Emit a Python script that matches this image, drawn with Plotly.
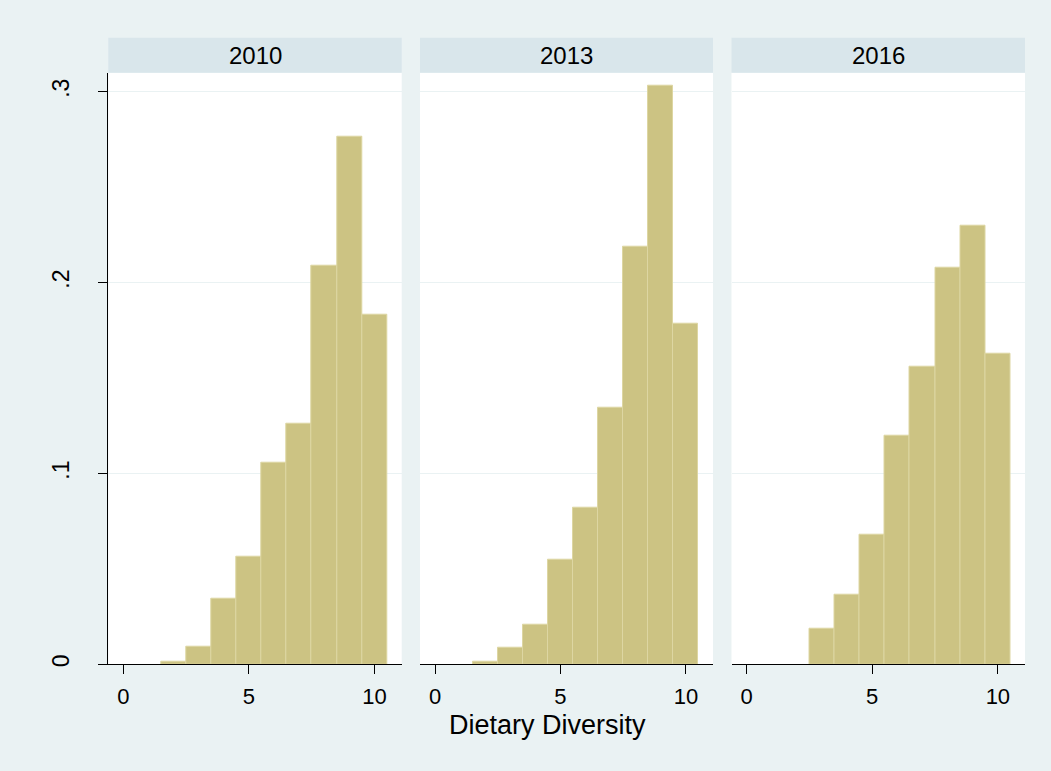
import plotly.graph_objects as go

# ---- data ----
years = ["2010", "2013", "2016"]
bins = [2, 3, 4, 5, 6, 7, 8, 9, 10]
dens_2010 = [0.0015, 0.0092, 0.0343, 0.0562, 0.1057, 0.1260, 0.2088, 0.2766, 0.1834]
dens_2013 = [0.0012, 0.0089, 0.0207, 0.0549, 0.0819, 0.1344, 0.2187, 0.3031, 0.1784]
dens_2016 = [None, 0.0189, 0.0367, 0.0680, 0.1196, 0.1560, 0.2080, 0.2297, 0.1628]
x_ticks = [0, 5, 10]
y_ticks = [0, 0.1, 0.2, 0.3]
y_ticktext = ["0", ".1", ".2", ".3"]
x_title = "Dietary Diversity"

series = [dens_2010, dens_2013, dens_2016]

W, H = 1051, 771
BG = "#EAF2F3"
STRIP = "#D9E6EB"
BAR = "#CCC383"
BAR_LINE = "#DDD6A2"
FONT = "Arial, Liberation Sans, sans-serif"

# panel pixel extents
panels_px = [(108.3, 401.7), (420.0, 713.0), (731.5, 1025.0)]
plot_top, plot_bottom = 73.0, 667.0
strip_top = 38.0

def px_x(v):
    return v / W

def px_y(v):
    return 1 - v / H

fig = go.Figure()

for i, (yr, vals) in enumerate(zip(years, series)):
    xa = "x" if i == 0 else f"x{i+1}"
    ya = "y" if i == 0 else f"y{i+1}"
    fig.add_trace(go.Bar(
        x=bins, y=vals, width=1.0,
        marker=dict(color=BAR, line=dict(color=BAR_LINE, width=1)),
        xaxis=xa, yaxis=ya, showlegend=False, hoverinfo="skip",
    ))

layout = dict(
    width=W, height=H,
    margin=dict(l=0, r=0, t=0, b=0),
    paper_bgcolor=BG, plot_bgcolor="white",
    font=dict(family=FONT, size=22, color="black"),
    bargap=0,
    shapes=[], annotations=[],
)

for i, (x0, x1) in enumerate(panels_px):
    xk = "xaxis" if i == 0 else f"xaxis{i+1}"
    yk = "yaxis" if i == 0 else f"yaxis{i+1}"
    yref = "y" if i == 0 else f"y{i+1}"
    layout[xk] = dict(
        domain=[px_x(x0), px_x(x1)], range=[-0.6, 11.08],
        anchor=yref, showgrid=False, zeroline=False,
        showline=True, linecolor="black", linewidth=1,
        ticks="outside", ticklen=9, tickcolor="black", tickwidth=1,
        tickvals=x_ticks, tickfont=dict(size=22, family=FONT),
        ticklabelstandoff=3,
    )
    ydict = dict(
        domain=[px_y(plot_bottom), px_y(plot_top)], range=[0, 0.3099],
        anchor="x" if i == 0 else f"x{i+1}",
        showgrid=True, gridcolor=BG, gridwidth=1, zeroline=False,
        tickvals=y_ticks,
    )
    if i == 0:
        ydict.update(showline=True, linecolor="black", linewidth=1,
                     ticks="outside", ticklen=9, tickcolor="black", tickwidth=1,
                     ticktext=y_ticktext, tickangle=-90,
                     tickfont=dict(size=23, family=FONT),
                     ticklabelstandoff=20)
    else:
        ydict.update(showline=False, ticks="", showticklabels=False, matches="y")
    layout[yk] = ydict

    layout["shapes"].append(dict(
        type="rect", xref="paper", yref="paper",
        x0=px_x(x0), x1=px_x(x1), y0=px_y(plot_top), y1=px_y(strip_top),
        fillcolor=STRIP, line=dict(width=0), layer="below",
    ))
    layout["annotations"].append(dict(
        text=years[i], xref="paper", yref="paper",
        x=px_x((x0 + x1) / 2), y=px_y((strip_top + plot_top) / 2),
        xanchor="center", yanchor="middle", showarrow=False,
        font=dict(size=24, family=FONT, color="black"),
    ))

layout["annotations"].append(dict(
    text=x_title, xref="paper", yref="paper",
    x=px_x(547), y=px_y(728), xanchor="center", yanchor="middle",
    showarrow=False, font=dict(size=27, family=FONT, color="black"),
))

fig.update_layout(**layout)
fig.write_html("out.html", config={"displayModeBar": False},
               post_script="document.body.style.margin='0';document.body.style.padding='0';")
